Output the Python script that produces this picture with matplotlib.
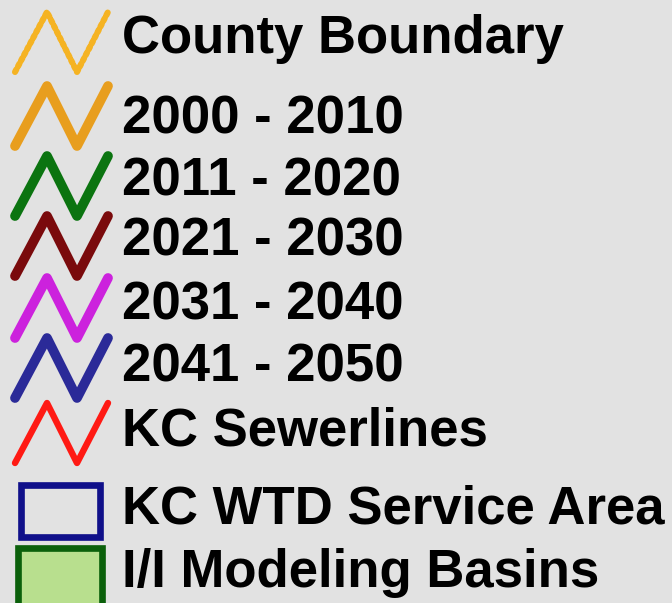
import matplotlib.pyplot as plt
from matplotlib.patches import Rectangle

# legend entries drawn as zigzag lines
line_labels = ['County Boundary', '2000 - 2010', '2011 - 2020', '2021 - 2030',
               '2031 - 2040', '2041 - 2050', 'KC Sewerlines']
line_colors = ['#F5B323', '#E89E1E', '#0B7410', '#7A0A0C', '#CC22DD', '#2B2A98', '#FF1A14']
line_widths = [4.4, 7.0, 7.0, 7.0, 7.0, 7.0, 4.6]
line_styles = [(0, (0.5, 0.55)), '-', '-', '-', '-', '-', '-']

# legend entries drawn as boxes
box_labels = ['KC WTD Service Area', 'I/I Modeling Basins']
box_edges = ['#10108A', '#0B600B']
box_fills = ['#E2E2E2', '#B8DF8E']

# zigzag template (x, y offsets)
zig_x = [0, 32, 62, 93]
zig_y = [30, -30, 30, -30]

fig = plt.figure(figsize=(6.72, 6.03), dpi=100)
fig.patch.set_facecolor('#E2E2E2')
ax = fig.add_axes([0, 0, 1, 1])
ax.set_xlim(0, 672)
ax.set_ylim(603, 0)
ax.axis('off')

line_centers = [42, 116, 186, 246, 308, 368, 433]
text_baselines = [53, 133, 195, 255, 320, 382, 445]
for lab, col, lw, ls, yc, yb in zip(line_labels, line_colors, line_widths, line_styles,
                                    line_centers, text_baselines):
    ax.plot([15 + x for x in zig_x], [yc + y for y in zig_y], color=col, lw=lw,
            ls=ls, solid_capstyle='round', dash_capstyle='round',
            solid_joinstyle='round')
    ax.text(122, yb, lab, fontsize=38, fontweight='bold', family='Liberation Sans',
            va='baseline', ha='left', color='black')

box_rects = [(21, 485, 79, 52), (18, 548, 84, 60)]
box_baselines = [523, 587]
for lab, ec, fc, (x0, y0, w, h), yb in zip(box_labels, box_edges, box_fills,
                                          box_rects, box_baselines):
    ax.add_patch(Rectangle((x0, y0), w, h, facecolor=fc, edgecolor=ec, lw=4.8,
                           clip_on=False))
    ax.text(122, yb, lab, fontsize=38, fontweight='bold', family='Liberation Sans',
            va='baseline', ha='left', color='black')

fig.savefig('out.png', dpi=100, facecolor=fig.get_facecolor())
